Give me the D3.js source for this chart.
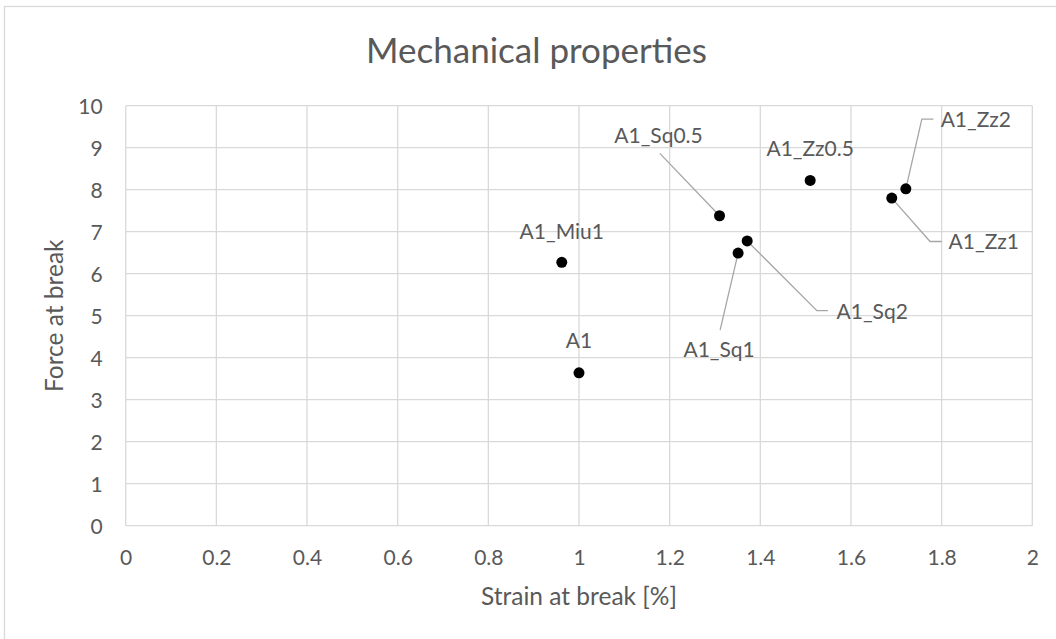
<!DOCTYPE html>
<html>
<head>
<meta charset="utf-8">
<script src="https://cdn.jsdelivr.net/npm/d3@7"></script>
<style>
  body { margin: 0; background: #fff; }
  text { font-family: Lato, "Open Sans", sans-serif; fill: #595959; }
</style>
</head>
<body>
<div id="chart"></div>
<script>
// values
var names   = ["A1", "A1_Miu1", "A1_Sq0.5", "A1_Sq1", "A1_Sq2", "A1_Zz0.5", "A1_Zz1", "A1_Zz2"];
var strain  = [1.00, 0.962, 1.31, 1.351, 1.371, 1.51, 1.69, 1.721];
var force   = [3.64, 6.27, 7.38, 6.49, 6.78, 8.22, 7.80, 8.02];
var xTicks  = [0, 0.2, 0.4, 0.6, 0.8, 1, 1.2, 1.4, 1.6, 1.8, 2];
var yTicks  = [0, 1, 2, 3, 4, 5, 6, 7, 8, 9, 10];

// label placement in pixels, relative to each point (dx, dy of label centre, leader bends)
var labelPos = [
  { dx: 0,   dy: -32, leader: null },
  { dx: 0,   dy: -31, leader: null },
  { dx: -61, dy: -80, leader: [[-59.7, -62.4]] },
  { dx: -19, dy: 96,  leader: [[-18, 77]] },
  { dx: 125, dy: 70,  leader: [[69.7, 69.7], [80.7, 69.7]] },
  { dx: 0,   dy: -32, leader: null },
  { dx: 92,  dy: 43,  leader: [[38.3, 43.4], [50, 43.4]] },
  { dx: 70,  dy: -69, leader: [[16, -69.7], [27.6, -69.7]] }
];

var W = 1056, H = 639;
var svg = d3.select("#chart").append("svg")
    .attr("width", W)
    .attr("height", H);

// chart border (right and bottom fall outside the picture)
svg.append("rect")
    .attr("x", 4.5).attr("y", 6.5)
    .attr("width", W + 20).attr("height", H + 20)
    .attr("fill", "none")
    .attr("stroke", "#d9d9d9")
    .attr("stroke-width", 1.3);

var x = d3.scaleLinear().domain([0, 2]).range([125.7, 1032.3]);
var y = d3.scaleLinear().domain([0, 10]).range([525.7, 105.7]);

var g = svg.append("g");

// grid
g.selectAll(".vgrid").data(xTicks).enter().append("line")
    .attr("x1", d => x(d)).attr("x2", d => x(d))
    .attr("y1", y(0)).attr("y2", y(10))
    .attr("stroke", "#d9d9d9").attr("stroke-width", 1.3);
g.selectAll(".hgrid").data(yTicks).enter().append("line")
    .attr("x1", x(0)).attr("x2", x(2))
    .attr("y1", d => y(d)).attr("y2", d => y(d))
    .attr("stroke", "#d9d9d9").attr("stroke-width", 1.3);

// axes (labels only, Excel style)
var xAxis = d3.axisBottom(x).tickValues(xTicks).tickSize(0).tickPadding(0)
    .tickFormat(d => d3.format("")(+d.toFixed(1)));
var gx = svg.append("g").attr("transform", "translate(0," + y(0) + ")").call(xAxis);
gx.select(".domain").remove();
gx.selectAll("text")
    .attr("y", 39).attr("dy", "0")
    .style("font-size", "21px").style("fill", "#595959").style("font-family", "Lato");

var yAxis = d3.axisLeft(y).tickValues(yTicks).tickSize(0).tickPadding(0);
var gy = svg.append("g").attr("transform", "translate(" + x(0) + ",0)").call(yAxis);
gy.select(".domain").remove();
gy.selectAll("text")
    .attr("x", -23).attr("dy", "0.36em")
    .style("font-size", "21px").style("fill", "#595959").style("font-family", "Lato");

// titles
svg.append("text")
    .attr("x", 536.5).attr("y", 63)
    .attr("text-anchor", "middle")
    .style("font-size", "35px")
    .text("Mechanical properties");

svg.append("text")
    .attr("x", (x(0) + x(2)) / 2).attr("y", 605)
    .attr("text-anchor", "middle")
    .style("font-size", "24.5px")
    .text("Strain at break [%]");

svg.append("text")
    .attr("transform", "translate(63," + (y(0) + y(10)) / 2 + ") rotate(-90)")
    .attr("text-anchor", "middle")
    .style("font-size", "24.5px")
    .text("Force at break");

// points and labels
var pts = names.map((n, i) => ({ name: n, sx: strain[i], fy: force[i], lp: labelPos[i] }));

var line = d3.line();
g.selectAll(".leader").data(pts.filter(d => d.lp.leader)).enter().append("path")
    .attr("d", d => {
        var px = x(d.sx), py = y(d.fy);
        return line([[px, py]].concat(d.lp.leader.map(p => [px + p[0], py + p[1]])));
    })
    .attr("fill", "none")
    .attr("stroke", "#a6a6a6")
    .attr("stroke-width", 1.3);

g.selectAll(".dot").data(pts).enter().append("circle")
    .attr("cx", d => x(d.sx))
    .attr("cy", d => y(d.fy))
    .attr("r", 5.5)
    .attr("fill", "#000");

g.selectAll(".lbl").data(pts).enter().append("text")
    .attr("x", d => x(d.sx) + d.lp.dx)
    .attr("y", d => y(d.fy) + d.lp.dy)
    .attr("dy", "0.36em")
    .attr("text-anchor", "middle")
    .style("font-size", "21px")
    .text(d => d.name);
</script>
</body>
</html>
